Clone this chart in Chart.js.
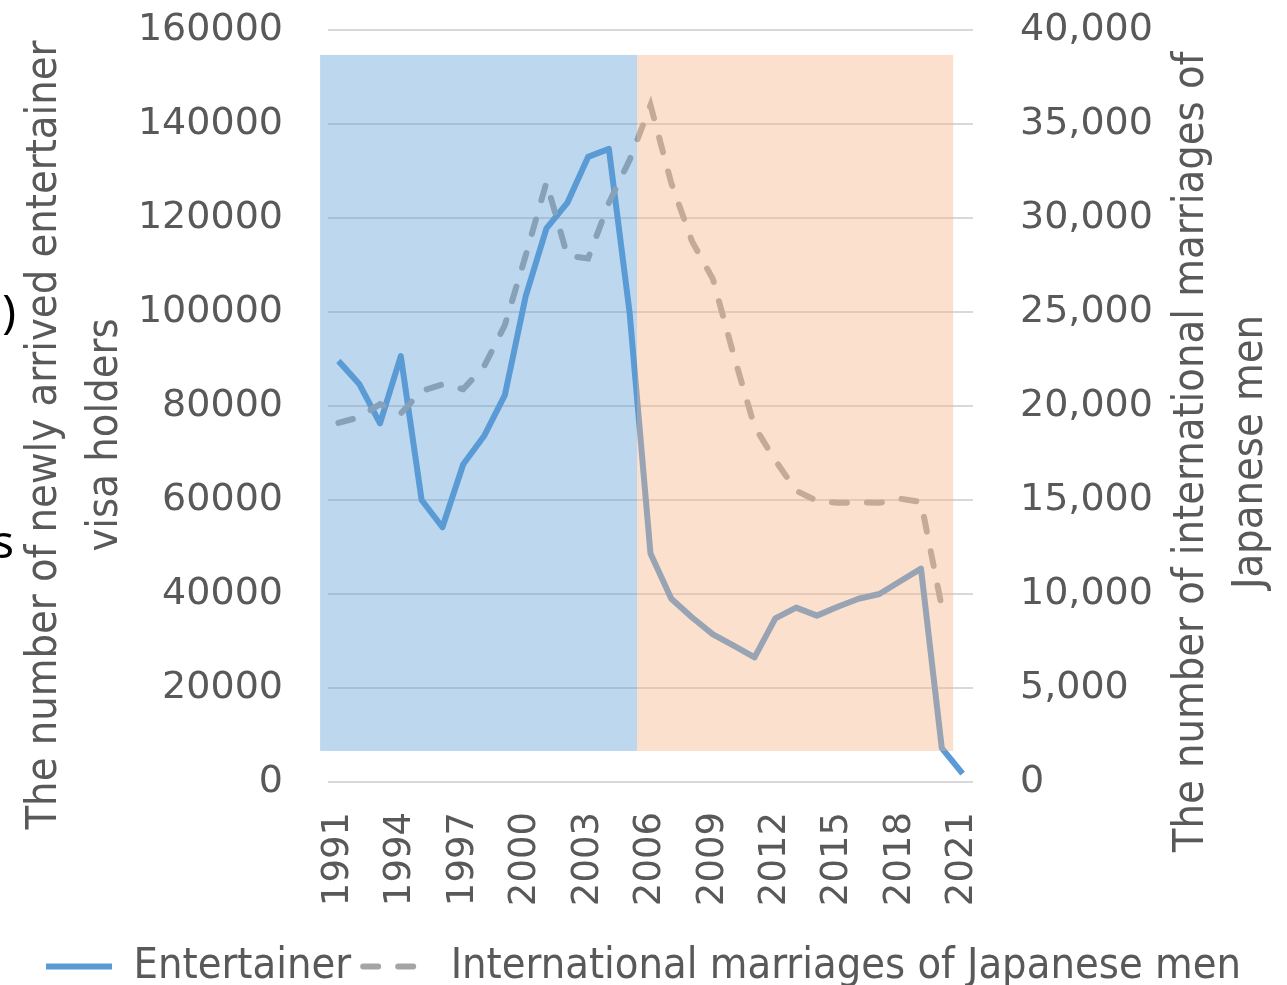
<!DOCTYPE html>
<html>
<head>
<meta charset="utf-8">
<script src="https://cdn.jsdelivr.net/npm/chart.js@4/dist/chart.umd.min.js"></script>
<style>
html, body { margin: 0; padding: 0; background: #fff; }
#wrap { width: 1287px; height: 985px; }
</style>
</head>
<body>
<div id="wrap"><canvas id="myChart" width="1287" height="985"></canvas></div>
<script>
const years = ['1991', '1992', '1993', '1994', '1995', '1996', '1997', '1998', '1999', '2000',
    '2001', '2002', '2003', '2004', '2005', '2006', '2007', '2008', '2009', '2010',
    '2011', '2012', '2013', '2014', '2015', '2016', '2017', '2018', '2019', '2020', '2021'];

// newly arrived entertainer visa holders (left axis)
const entertainer = [89600, 84700, 76300, 90600, 60000, 54200, 67600, 73600, 82300, 103300,
    117800, 123200, 133000, 134700, 99700, 48600, 39000, 35000, 31400, 29000,
    26500, 34800, 37100, 35400, 37300, 39000, 40000, 42700, 45400, 7200, 1800];

// international marriages of Japanese men (right axis)
const marriages = [19100, 19400, 20100, 19600, 20800, 21150, 20900, 22100, 24300, 28000,
    31900, 28000, 27850, 30800, 33100, 36000, 31850, 28750, 26750, 22700,
    18900, 17100, 15500, 14950, 14850, 14870, 14850, 15070, 14900, 9300, null];

const leftTitle = ['The number of newly arrived entertainer', 'visa holders'];
const rightTitle = ['The number of international marriages of', 'Japanese men'];

// shaded periods, in category index units on x and left-axis units on y
const shadeBands = [
    { from: -0.88, to: 14.35, color: 'rgba(91, 155, 213, 0.4)' },
    { from: 14.35, to: 29.55, color: 'rgba(244, 177, 131, 0.4)' }
];
const shadeLow = 6600;
const shadeHigh = 154700;

const textGray = '#595959';
const narrow = "'Liberation Sans Narrow', 'DejaVu Sans Condensed', 'Roboto Condensed', sans-serif";

const shadePlugin = {
    id: 'shade',
    afterDatasetsDraw(chart) {
        const { ctx, scales } = chart;
        const x = scales.x, y = scales.y;
        ctx.save();
        shadeBands.forEach(b => {
            const x0 = x.getPixelForValue(b.from);
            const x1 = x.getPixelForValue(b.to);
            const y0 = y.getPixelForValue(shadeHigh);
            const y1 = y.getPixelForValue(shadeLow);
            ctx.fillStyle = b.color;
            ctx.fillRect(x0, y0, x1 - x0, y1 - y0);
        });
        ctx.restore();
    }
};

const titlePlugin = {
    id: 'titles',
    afterDraw(chart) {
        const ctx = chart.ctx;
        ctx.save();
        ctx.fillStyle = textGray;
        ctx.font = '43px ' + narrow;
        ctx.textAlign = 'center';
        ctx.textBaseline = 'middle';
        const drawRotated = (lines, xs, cy) => {
            lines.forEach((t, i) => {
                ctx.save();
                ctx.translate(xs[i], cy);
                ctx.rotate(-Math.PI / 2);
                ctx.fillText(t, 0, 0);
                ctx.restore();
            });
        };
        drawRotated(leftTitle, [45, 106], 435);
        drawRotated(rightTitle, [1192, 1251], 452);

        // cropped fragments of neighbouring text at the left edge
        ctx.fillStyle = '#000';
        ctx.font = '46px ' + "'Noto Sans', sans-serif";
        ctx.textAlign = 'right';
        ctx.fillText('0)', 16, 315);
        ctx.fillText('s', 14, 545);
        ctx.restore();
    }
};

const ctx = document.getElementById('myChart').getContext('2d');
const myChart = new Chart(ctx, {
    type: 'line',
    data: {
        labels: years,
        datasets: [
            {
                label: 'Entertainer',
                data: entertainer,
                yAxisID: 'y',
                borderColor: '#5B9BD5',
                backgroundColor: '#5B9BD5',
                borderWidth: 6,
                pointRadius: 0,
                tension: 0,
                borderJoinStyle: 'round',
                order: 2
            },
            {
                label: 'International marriages of Japanese men',
                data: marriages,
                yAxisID: 'y2',
                borderColor: '#A5A5A5',
                backgroundColor: '#A5A5A5',
                borderWidth: 6,
                borderDash: [15, 20],
                borderCapStyle: 'round',
                pointRadius: 0,
                tension: 0,
                order: 1
            }
        ]
    },
    options: {
        responsive: false,
        animation: false,
        layout: { padding: { top: 30, left: 0, right: 0, bottom: -13 } },
        plugins: {
            tooltip: { enabled: false },
            legend: {
                position: 'bottom',
                labels: {
                    usePointStyle: true,
                    pointStyle: 'line',
                    pointStyleWidth: 66,
                    color: textGray,
                    padding: 12,
                    font: { size: 43, family: narrow },
                    sort: (a, b) => a.datasetIndex - b.datasetIndex,
                    generateLabels: chart => Chart.defaults.plugins.legend.labels.generateLabels(chart).map(item => {
                        const ds = chart.data.datasets[item.datasetIndex];
                        item.lineDash = ds.borderDash || [];
                        item.lineWidth = ds.borderWidth;
                        item.strokeStyle = ds.borderColor;
                        item.lineCap = ds.borderCapStyle || 'butt';
                        return item;
                    })
                }
            }
        },
        scales: {
            x: {
                offset: true,
                grid: { display: false, drawTicks: false },
                border: { display: false },
                ticks: {
                    autoSkip: false,
                    minRotation: 90,
                    maxRotation: 90,
                    padding: 30,
                    color: textGray,
                    font: { size: 37, family: "'DejaVu Sans', sans-serif" },
                    callback: (v, i) => (i % 3 === 0 ? years[i] : null)
                },
                afterFit: s => { s.height = 151; }
            },
            y: {
                position: 'left',
                min: 0,
                max: 160000,
                grid: { color: '#D9D9D9', lineWidth: 2, drawTicks: false },
                border: { display: false },
                ticks: {
                    stepSize: 20000,
                    padding: 45,
                    color: textGray,
                    font: { size: 38, family: "'DejaVu Sans', sans-serif" },
                    callback: v => String(v)
                },
                afterFit: s => { s.width = 328; s.paddingTop = 0; s.paddingBottom = 0; }
            },
            y2: {
                position: 'right',
                min: 0,
                max: 40000,
                grid: { display: false, drawTicks: false },
                border: { display: false },
                ticks: {
                    stepSize: 5000,
                    padding: 47,
                    color: textGray,
                    font: { size: 38, family: "'DejaVu Sans', sans-serif" },
                    callback: v => v.toLocaleString('en-US')
                },
                afterFit: s => { s.width = 314; s.paddingTop = 0; s.paddingBottom = 0; }
            }
        }
    },
    plugins: [shadePlugin, titlePlugin]
});
</script>
</body>
</html>
